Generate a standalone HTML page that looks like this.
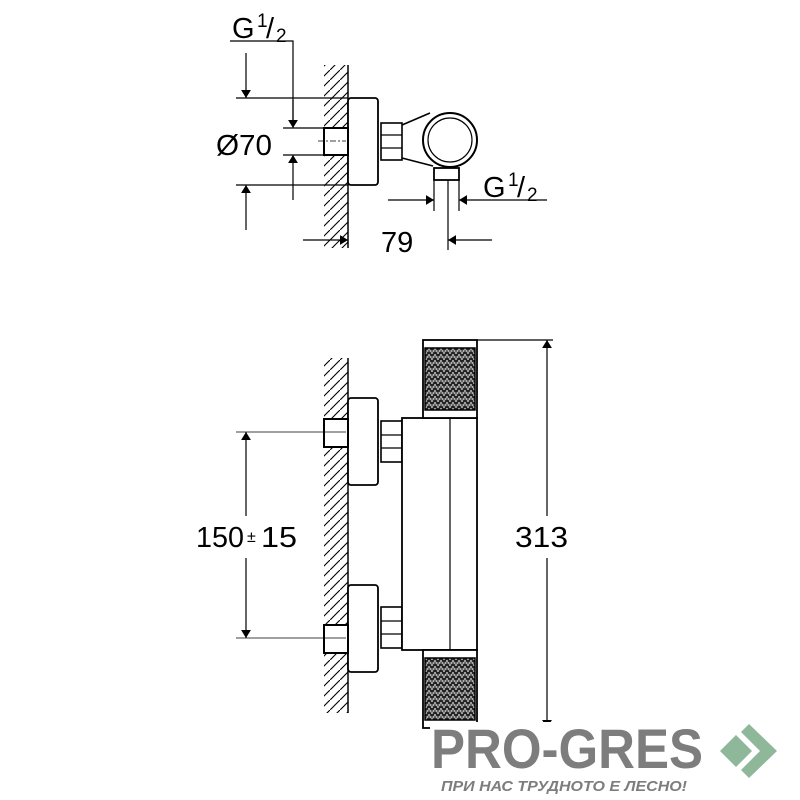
<!DOCTYPE html>
<html><head><meta charset="utf-8"><style>
html,body{margin:0;padding:0;background:#fff;width:800px;height:800px;overflow:hidden}
text{font-family:"Liberation Sans",sans-serif}
</style></head><body>
<svg width="800" height="800" viewBox="0 0 800 800" xmlns="http://www.w3.org/2000/svg">
<defs>
<pattern id="h" width="10" height="10" patternUnits="userSpaceOnUse">
<path d="M-2 12 L12 -2" stroke="#000" stroke-width="1.1"/>
</pattern>
<pattern id="k" width="6" height="6" patternUnits="userSpaceOnUse">
<rect width="6" height="6" fill="#222"/>
<path d="M0 6 L3 0 L6 6 M0 3 H6" stroke="#fff" stroke-width="0.6" fill="none"/>
</pattern>
<marker id="a" viewBox="0 0 10 10" refX="10" refY="5" markerWidth="8" markerHeight="14" orient="auto-start-reverse" markerUnits="userSpaceOnUse" preserveAspectRatio="none">
<path d="M0 1.5 L10 5 L0 8.5z" fill="#000"/>
</marker>
</defs>
<g stroke="#000" fill="none" stroke-width="1.2">
<rect x="324" y="65" width="24" height="183" fill="url(#h)" stroke="none"/>
<line x1="348" y1="65" x2="348" y2="248" stroke-width="1.5"/>
<rect x="348" y="98" width="30" height="87" rx="3" fill="#fff" stroke-width="1.8"/>
<rect x="324" y="128" width="24" height="27" fill="#fff" stroke-width="2"/>
<line x1="318" y1="141" x2="346" y2="141" stroke-dasharray="6,2,2,2" stroke-width="0.8"/>
<rect x="381" y="123" width="21" height="37" fill="#fff" stroke-width="1.6"/>
<path d="M381 135 H402 M381 148 H402"/>
<path d="M402 125 L430 113 M402 158 L433 166" stroke-width="1.6"/>
<circle cx="450" cy="140" r="27" fill="#fff" stroke-width="2"/>
<circle cx="450" cy="140" r="22" stroke-width="1.2"/>
<rect x="434" y="168" width="25" height="12" fill="#fff" stroke-width="1.8"/>
<path d="M230 41 H293 V120" /><line x1="293" y1="100" x2="293" y2="128" marker-end="url(#a)"/>
<line x1="246" y1="53" x2="246" y2="98" marker-end="url(#a)"/>
<path d="M236 98 H348 M283 128 H324 M283 155 H324 M236 185 H348"/>
<line x1="293" y1="200" x2="293" y2="155" marker-end="url(#a)"/>
<line x1="246" y1="230" x2="246" y2="185" marker-end="url(#a)"/>
<line x1="303" y1="240" x2="348" y2="240" marker-end="url(#a)"/>
<path d="M448 180 V250"/>
<line x1="492" y1="240" x2="448" y2="240" marker-end="url(#a)"/>
<path d="M434 180 V211 M459 180 V211"/>
<line x1="388" y1="200" x2="434" y2="200" marker-end="url(#a)"/>
<line x1="547" y1="200" x2="459" y2="200" marker-end="url(#a)"/>
<rect x="324" y="358" width="24" height="355" fill="url(#h)" stroke="none"/>
<line x1="348" y1="358" x2="348" y2="713" stroke-width="1.5"/>
<rect x="348" y="398" width="30" height="87" rx="3" fill="#fff" stroke-width="1.8"/>
<rect x="348" y="585" width="30" height="87" rx="3" fill="#fff" stroke-width="1.8"/>
<rect x="324" y="419" width="24" height="28" fill="#fff" stroke-width="2"/>
<rect x="324" y="625" width="24" height="28" fill="#fff" stroke-width="2"/>
<line x1="236" y1="432" x2="346" y2="432" stroke-width="0.8"/>
<line x1="236" y1="638" x2="346" y2="638" stroke-width="0.8"/>
<rect x="381" y="421" width="21" height="41" fill="#fff" stroke-width="1.6"/>
<path d="M381 435 H402 M381 448 H402"/>
<rect x="381" y="607" width="21" height="41" fill="#fff" stroke-width="1.6"/>
<path d="M381 621 H402 M381 634 H402"/>
<rect x="402" y="418" width="75" height="232" fill="#fff" stroke-width="1.8"/>
<line x1="450" y1="418" x2="450" y2="650"/>
<rect x="423" y="340" width="54" height="78" fill="#fff" stroke-width="1.8"/>
<rect x="425" y="348" width="50" height="62" fill="url(#k)" stroke-width="1.5"/>
<rect x="423" y="650" width="54" height="78" fill="#fff" stroke-width="1.8"/>
<rect x="425" y="658" width="50" height="62" fill="url(#k)" stroke-width="1.5"/>
<path d="M477 340 H553 M477 728 H553"/>
<line x1="547" y1="520" x2="547" y2="340" marker-end="url(#a)"/>
<line x1="547" y1="550" x2="547" y2="728" marker-end="url(#a)"/>
<line x1="246" y1="520" x2="246" y2="432" marker-end="url(#a)"/>
<line x1="246" y1="555" x2="246" y2="638" marker-end="url(#a)"/>
</g>
<rect x="240" y="516" width="14" height="42" fill="#fff"/>
<rect x="540" y="516" width="14" height="42" fill="#fff"/>
<g font-size="29" fill="#000">
<text x="232" y="38">G</text><text x="257" y="27" font-size="19">1</text><text x="266" y="38">/</text><text x="276" y="42" font-size="19">2</text>
<text x="483" y="197">G</text><text x="508" y="186" font-size="19">1</text><text x="517" y="197">/</text><text x="527" y="201" font-size="19">2</text>
<text x="216" y="155" textLength="56" lengthAdjust="spacingAndGlyphs">Ø70</text>
<text x="381" y="252">79</text>
<text x="196" y="547" textLength="48" lengthAdjust="spacingAndGlyphs">150</text><text x="247" y="542" font-size="16">±</text><text x="261" y="547" textLength="36" lengthAdjust="spacingAndGlyphs">15</text>
<text x="515" y="547" textLength="53" lengthAdjust="spacingAndGlyphs">313</text>
</g>
<rect x="430" y="722" width="280" height="78" fill="#fff"/>
<text x="431" y="768" font-size="56" font-weight="bold" fill="#7d7d7d" textLength="272" lengthAdjust="spacingAndGlyphs">PRO-GRES</text>
<text x="441" y="791" font-size="15" font-weight="bold" font-style="italic" fill="#7d7d7d" textLength="246" lengthAdjust="spacingAndGlyphs">ПРИ НАС ТРУДНОТО Е ЛЕСНО!</text>
<path d="M720 751 L736 735 L752 751 L736 767Z" fill="#8fb89a"/>
<path d="M749 724 L777 751 L749 778 L741 770 L760 751 L741 732Z" fill="#8fb89a"/>
</svg>
</body></html>
